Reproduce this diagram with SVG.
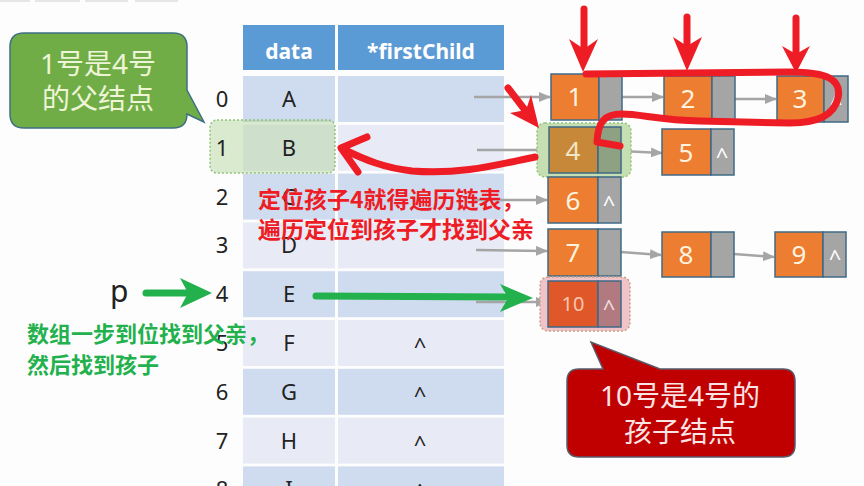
<svg xmlns="http://www.w3.org/2000/svg" width="864" height="486" viewBox="0 0 864 486">
<style>
.hd{fill:#5b9bd5}
.rd{fill:#cfdbef}
.rl{fill:#e8ebf6}
.ht{font-family:"Noto Sans","Liberation Sans",sans-serif;font-weight:bold;font-size:21px;fill:#ffffff;text-anchor:middle}
.tt{font-family:"Noto Sans","Liberation Sans",sans-serif;font-size:22px;fill:#222222;text-anchor:middle}
.or{fill:#ed7d31;stroke:#3e6a86;stroke-width:1.5}
.gr{fill:#a5a5a5;stroke:#3e6a86;stroke-width:1.5}
.nt{font-family:"Noto Sans","Liberation Sans",sans-serif;font-size:26px;fill:#fff3df;text-anchor:middle}
.ct{font-family:"Noto Sans","Liberation Sans",sans-serif;font-size:22px;fill:#ffffff;text-anchor:middle}
.ga{stroke:#a5a5a5;stroke-width:2.5;fill:none;marker-end:url(#gh)}
.red{stroke:#ee1c25;stroke-width:7;fill:none;stroke-linecap:round;stroke-linejoin:round}
.redf{fill:#ee1c25}
.grn{stroke:#22b14c;stroke-width:7;fill:none;stroke-linecap:round}
.grnf{fill:#22b14c}
.cjk{font-family:"Noto Sans CJK SC",sans-serif;font-weight:bold}
.co{font-family:"Noto Sans","Noto Sans CJK SC",sans-serif;font-size:28px;text-anchor:middle}
.hlg{stroke:#93c47a;stroke-width:1.5;stroke-dasharray:2 2}
</style>
<defs>
<marker id="gh" viewBox="0 0 12 10" refX="11" refY="5" markerWidth="12" markerHeight="10" markerUnits="userSpaceOnUse" orient="auto">
<path d="M0,0 L12,5 L0,10 Z" fill="#a5a5a5"/>
</marker>
</defs>
<rect width="864" height="486" fill="#fdfdfd"/>
<g id="tabs" fill="#e6e6e6">
<rect x="0" y="0" width="30" height="2"/>
<rect x="35" y="0" width="45" height="2"/>
<rect x="85" y="0" width="43" height="2"/>
<rect x="135" y="0" width="43" height="2"/>
</g>
<g id="table">
<rect class="hd" x="243" y="25" width="92" height="45"/>
<rect class="hd" x="338" y="25" width="166" height="45"/>
<text class="ht" x="289" y="59">data</text>
<text class="ht" x="421" y="59">*firstChild</text>
<rect class="rd" x="243" y="76" width="92" height="46"/><rect class="rd" x="338" y="76" width="166" height="46"/>
<rect class="rl" x="243" y="124.8" width="92" height="46"/><rect class="rl" x="338" y="124.8" width="166" height="46"/>
<rect class="rd" x="243" y="173.6" width="92" height="46"/><rect class="rd" x="338" y="173.6" width="166" height="46"/>
<rect class="rl" x="243" y="222.4" width="92" height="46"/><rect class="rl" x="338" y="222.4" width="166" height="46"/>
<rect class="rd" x="243" y="271.2" width="92" height="46"/><rect class="rd" x="338" y="271.2" width="166" height="46"/>
<rect class="rl" x="243" y="320" width="92" height="46"/><rect class="rl" x="338" y="320" width="166" height="46"/>
<rect class="rd" x="243" y="368.8" width="92" height="46"/><rect class="rd" x="338" y="368.8" width="166" height="46"/>
<rect class="rl" x="243" y="417.6" width="92" height="46"/><rect class="rl" x="338" y="417.6" width="166" height="46"/>
<rect class="rd" x="243" y="466.4" width="92" height="46"/><rect class="rd" x="338" y="466.4" width="166" height="46"/>
<rect id="hl-row1" class="hlg" x="210" y="120" width="125" height="53" rx="7" fill="#a9d08e" fill-opacity="0.42"/>
<text class="tt" x="222" y="107">0</text><text class="tt" x="289" y="107">A</text>
<text class="tt" x="222" y="155.8">1</text><text class="tt" x="289" y="155.8">B</text>
<text class="tt" x="222" y="204.6">2</text><text class="tt" x="289" y="204.6">C</text>
<text class="tt" x="222" y="253.4">3</text><text class="tt" x="289" y="253.4">D</text>
<text class="tt" x="222" y="302.2">4</text><text class="tt" x="289" y="302.2">E</text>
<text class="tt" x="222" y="351">5</text><text class="tt" x="289" y="351">F</text><text class="tt" x="420" y="354">^</text>
<text class="tt" x="222" y="399.8">6</text><text class="tt" x="289" y="399.8">G</text><text class="tt" x="420" y="402.8">^</text>
<text class="tt" x="222" y="448.6">7</text><text class="tt" x="289" y="448.6">H</text><text class="tt" x="420" y="451.6">^</text>
<text class="tt" x="222" y="497.4">8</text><text class="tt" x="289" y="497.4">I</text><text class="tt" x="420" y="500.4">^</text>
</g>
<g id="connectors">
<line class="ga" x1="474" y1="97" x2="550" y2="97"/>
<line class="ga" x1="477" y1="150" x2="548" y2="150"/>
<line class="ga" x1="472" y1="200" x2="547" y2="200"/>
<line class="ga" x1="476" y1="250" x2="547" y2="251"/>
<line class="ga" x1="476" y1="302" x2="547" y2="302"/>
<line class="ga" x1="622" y1="97" x2="663" y2="97"/>
<line class="ga" x1="735" y1="99" x2="776" y2="99"/>
<line class="ga" x1="621" y1="151" x2="662" y2="153"/>
<line class="ga" x1="621" y1="252" x2="661" y2="255"/>
<line class="ga" x1="734" y1="254" x2="774" y2="257"/>
</g>
<g id="n1"><rect class="or" x="551" y="74" width="48" height="46"/><rect class="gr" x="599" y="74" width="23" height="46"/><text class="nt" x="575" y="106">1</text></g>
<g id="n2"><rect class="or" x="664" y="76" width="48" height="45"/><rect class="gr" x="712" y="76" width="23" height="45"/><text class="nt" x="688" y="108">2</text></g>
<g id="n3"><rect class="or" x="777" y="76" width="47" height="46"/><rect class="gr" x="824" y="76" width="24" height="46"/><text class="nt" x="800" y="108">3</text><text class="ct" x="836" y="111">^</text></g>
<g id="n4">
<rect class="hlg" x="537" y="123" width="94" height="54" rx="8" fill="#c6dfb2"/>
<rect class="or" x="549" y="127" width="49" height="46" style="fill:#c8883a"/><rect class="gr" x="598" y="127" width="23" height="46" style="fill:#8fa183"/><text class="nt" x="573" y="160" style="fill:#f3e6c6">4</text></g>
<g id="n5"><rect class="or" x="662" y="129" width="49" height="46"/><rect class="gr" x="711" y="129" width="23" height="46"/><text class="nt" x="686" y="162">5</text><text class="ct" x="722" y="164">^</text></g>
<g id="n6"><rect class="or" x="548" y="177" width="50" height="46"/><rect class="gr" x="598" y="177" width="23" height="46"/><text class="nt" x="573" y="210">6</text><text class="ct" x="609" y="212">^</text></g>
<g id="n7"><rect class="or" x="548" y="229" width="50" height="47"/><rect class="gr" x="598" y="229" width="23" height="47"/><text class="nt" x="573" y="262">7</text></g>
<g id="n8"><rect class="or" x="662" y="232" width="49" height="45"/><rect class="gr" x="711" y="232" width="23" height="45"/><text class="nt" x="686" y="264">8</text></g>
<g id="n9"><rect class="or" x="775" y="232" width="48" height="45"/><rect class="gr" x="823" y="232" width="23" height="45"/><text class="nt" x="799" y="264">9</text><text class="ct" x="835" y="266">^</text></g>
<g id="n10">
<rect x="540" y="277" width="90" height="54" rx="8" fill="#efc3c8" stroke="#c9a088" stroke-width="1.5" stroke-dasharray="2 2"/>
<rect class="or" x="548" y="281" width="50" height="46" style="fill:#e0582a"/><rect class="gr" x="598" y="281" width="23" height="46" style="fill:#b07a80"/><text class="nt" x="573" y="311" style="font-size:20px;fill:#f6c6ae">10</text><text class="ct" x="609" y="316" style="fill:#f1dede">^</text></g>
<g id="callout-parent">
<path d="M24 33 L173 33 Q187 33 187 47 L187 90 L204 122 L187 114 Q187 128 173 128 L24 128 Q10 128 10 114 L10 47 Q10 33 24 33 Z" fill="#70ad47" stroke="#3e6f84" stroke-width="1.5"/>
<text class="co" x="98" y="74" fill="#eef5d6">1号是4号</text>
<text class="co" x="98" y="109" fill="#eef5d6">的父结点</text>
</g>
<g id="callout-child">
<path d="M579 369 L603 369 L591 342 L660 369 L783 369 Q795 369 795 381 L795 445 Q795 457 783 457 L579 457 Q567 457 567 445 L567 381 Q567 369 579 369 Z" fill="#c00000" stroke="#5a5a6a" stroke-width="1.5"/>
<text class="co" x="680" y="406" fill="#fbe4e4">10号是4号的</text>
<text class="co" x="680" y="442" fill="#fbe4e4">孩子结点</text>
</g>
<g id="red-annotations">
<line class="red" x1="584" y1="9" x2="584" y2="48"/>
<path class="redf" d="M569 39 L584 49 L598 39 L583 72 Z"/>
<line class="red" x1="687" y1="17" x2="687" y2="44"/>
<path class="redf" d="M673 37 L687 46 L702 37 L687 71 Z"/>
<line class="red" x1="796" y1="18" x2="796" y2="52"/>
<path class="redf" d="M782 46 L796 54 L810 46 L796 73 Z"/>
<path class="red" d="M586 74 L790 72 C828 72 842 80 838 98 C834 116 815 123 790 123 L700 121 C660 120 640 114 622 114 C604 114 598 122 597 142 L620 146"/>
<line class="red" x1="508" y1="88" x2="528" y2="114"/>
<path class="redf" d="M510 113 L526 110 L531 95 L539 128 Z"/>
<path class="red" d="M535 157 C500 164 462 175 412 171 C385 168 365 160 343 149"/>
<path class="red" d="M367 137 L341 148 L358 172"/>
<text class="cjk" x="258" y="208" font-size="23" fill="#ee1c25">定位孩子4就得遍历链表，</text>
<text class="cjk" x="258" y="238" font-size="23" fill="#ee1c25">遍历定位到孩子才找到父亲</text>
</g>
<g id="green-annotations">
<text x="110" y="302" font-family="Noto Sans, Liberation Sans, sans-serif" font-size="30" fill="#222222">p</text>
<line class="grn" x1="146" y1="293" x2="186" y2="293"/>
<path class="grnf" d="M180 278 L212 293 L180 308 L188 293 Z"/>
<line class="grn" x1="316" y1="296" x2="506" y2="297"/>
<path class="grnf" d="M500 284 L533 298 L500 312 L508 298 Z"/>
<text class="cjk" x="27" y="342" font-size="22" fill="#22b14c">数组一步到位找到父亲，</text>
<text class="cjk" x="27" y="373" font-size="22" fill="#22b14c">然后找到孩子</text>
</g>
</svg>
